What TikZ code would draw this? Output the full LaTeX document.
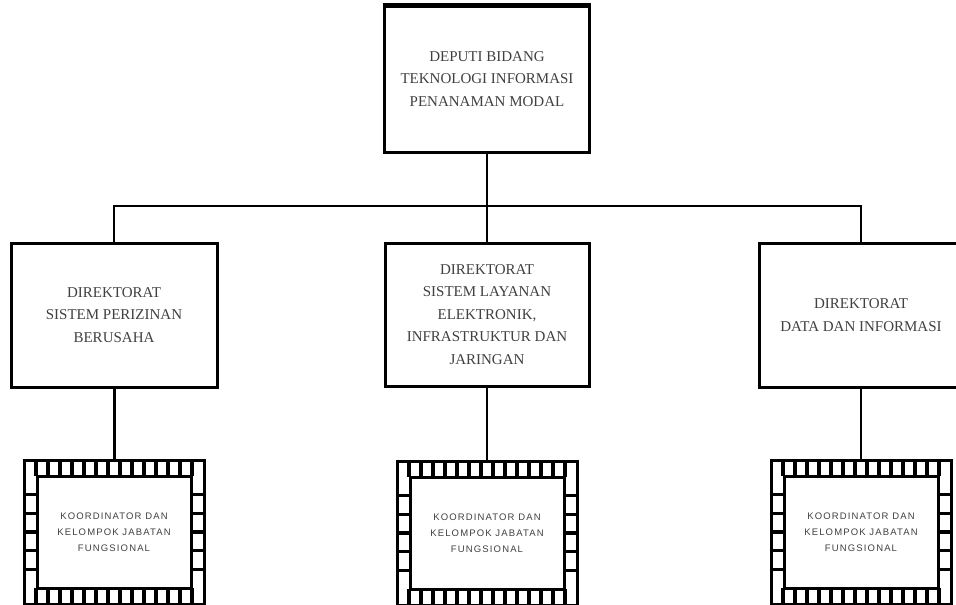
\documentclass[tikz,border=0pt]{standalone}
\usepackage{fontspec}
\setmainfont{Liberation Serif}
\newfontfamily\koordfont[LetterSpace=12]{Liberation Sans}
\usepackage{tikz}
\usetikzlibrary{positioning}

\begin{document}
\begin{tikzpicture}[x=1pt, y=1pt]

	% Stil kotak unit dan kotak koordinator
	\tikzset{
		unit/.style={
			draw,
			line width=3pt,
			align=center,
			inner sep=0pt,
			text=black!75,
			font=\fontsize{15}{22.5}\selectfont
		},
		koord/.style={
			draw,
			line width=3pt,
			minimum width=180pt,
			minimum height=144pt,
			inner sep=0pt,
			align=center,
			text=black!75,
			font=\koordfont\fontsize{9.5}{16}\selectfont,
			path picture={
				\draw[line width=3pt] ([shift={(13pt,-16pt)}]path picture bounding box.north west)
					rectangle ([shift={(-13pt,16pt)}]path picture bounding box.south east);
				\foreach \i in {1,...,14} {
					\draw[line width=3.4pt] ([xshift=\i*12pt]path picture bounding box.north west) -- ++(0,-16pt);
					\draw[line width=3.4pt] ([xshift=\i*12pt]path picture bounding box.south west) -- ++(0,16pt);
				}
				\foreach \j in {1,...,5} {
					\draw[line width=3.4pt] ([yshift=-16pt-\j*18.67pt]path picture bounding box.north west) -- ++(13pt,0);
					\draw[line width=3.4pt] ([yshift=-16pt-\j*18.67pt]path picture bounding box.north east) -- ++(-13pt,0);
				}
			}
		},
		link/.style={line width=2.2pt}
	}

	\useasboundingbox (0,0) rectangle (956,-605);
	\clip (0,0) rectangle (956,-605);

	% Deputi
	\node[unit, minimum width=205pt, minimum height=146pt] (deputi) at (487,-79)
		{DEPUTI BIDANG\\TEKNOLOGI INFORMASI\\PENANAMAN MODAL};
	\draw[line width=4pt] (deputi.north west) -- (deputi.north east);

	% Direktorat
	\node[unit, minimum width=206pt, minimum height=144pt] (perizinan) at (114,-315)
		{DIREKTORAT\\SISTEM PERIZINAN\\BERUSAHA};
	\node[unit, minimum width=204pt, minimum height=143pt] (layanan) at (487,-314.5)
		{DIREKTORAT\\SISTEM LAYANAN\\ELEKTRONIK,\\INFRASTRUKTUR DAN\\JARINGAN};
	\node[unit, minimum width=204pt, minimum height=144pt] (data) at (861,-315)
		{DIREKTORAT\\DATA DAN INFORMASI};

	% Koordinator dan kelompok jabatan fungsional
	\node[koord] (koordA) at (114,-532) {KOORDINATOR DAN\\KELOMPOK JABATAN\\FUNGSIONAL};
	\node[koord] (koordB) at (487,-533) {KOORDINATOR DAN\\KELOMPOK JABATAN\\FUNGSIONAL};
	\node[koord] (koordC) at (861,-532) {KOORDINATOR DAN\\KELOMPOK JABATAN\\FUNGSIONAL};

	% Garis penghubung
	\coordinate (bus) at (487,-206);
	\draw[link] (deputi.south) -- (bus);
	\draw[link] (bus) -| (perizinan.north);
	\draw[link] (bus) -| (data.north);
	\draw[link] (bus) -- (layanan.north);
	\draw[link, line width=3pt] (perizinan.south) -- (koordA.north);
	\draw[link] (layanan.south) -- (koordB.north);
	\draw[link] (data.south) -- (koordC.north);

\end{tikzpicture}
\end{document}
